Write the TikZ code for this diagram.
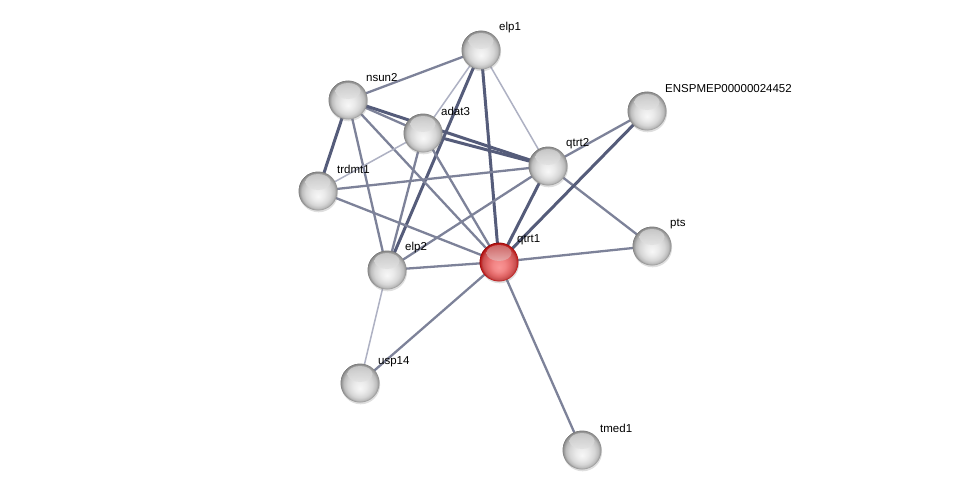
\documentclass[tikz,border=0pt]{standalone}
\usepackage{fontspec}
\setmainfont{Liberation Sans}
\usetikzlibrary{backgrounds,shadows}
\pgfdeclarelayer{back}
\pgfsetlayers{back,background,main}
\definecolor{edk}{HTML}{555C7A}
\definecolor{emd}{HTML}{7D8299}
\definecolor{elt}{HTML}{AEB1C3}
\pgfdeclareradialshading{sphg}{\pgfpoint{0bp}{-7bp}}{color(0bp)=(white!97!black); color(8bp)=(white!92!black); color(16bp)=(white!84!black); color(21bp)=(white!74!black); color(24bp)=(white!58!black); color(26bp)=(white!45!black)}
\pgfdeclareradialshading{sphr}{\pgfpoint{0bp}{-7bp}}{color(0bp)=(red!40!white!98!black); color(8bp)=(red!45!white!95!black); color(16bp)=(red!55!white!88!black); color(21bp)=(red!60!white!78!black); color(24bp)=(red!70!black!90!white); color(26bp)=(red!55!black)}
\tikzset{
  ball/.style={circle, minimum size=39pt, inner sep=0pt,
     drop shadow={shadow xshift=0.6pt, shadow yshift=-1.8pt, opacity=0.25},
     path picture={\shade[top color=#1, bottom color=white, opacity=0.85] ([yshift=9pt]path picture bounding box.center) ellipse (12.5pt and 8pt);}},
  prot/.style={ball=white!78!black, shading=sphg},
  query/.style={ball=red!50!white!80!black, shading=sphr},
  lab/.style={anchor=west, inner sep=0pt, font=\fontsize{11.5}{13}\selectfont},
  ethick/.style={draw=edk, line width=3pt},
  emed/.style={draw=emd, line width=2.3pt},
  elight/.style={draw=elt, line width=1.5pt}
}
\begin{document}
\begin{tikzpicture}[x=1pt,y=-1pt]
\begin{pgfonlayer}{back}
\fill[white] (0,0) rectangle (975,495);
\end{pgfonlayer}
\useasboundingbox (0,0) rectangle (975,495);
\node[prot] (elp1) at (481,50) {};
\node[prot] (nsun2) at (348,100) {};
\node[prot] (adat3) at (423,133) {};
\node[prot] (ensp) at (647,111) {};
\node[prot] (qtrt2) at (548,166) {};
\node[prot] (trdmt1) at (318,191) {};
\node[prot] (pts) at (652,246) {};
\node[query] (qtrt1) at (499,262) {};
\node[prot] (elp2) at (387,270) {};
\node[prot] (usp14) at (360,383) {};
\node[prot] (tmed1) at (582,450) {};
\node[lab] (lelp1) at (499,28) {elp1};
\node[lab] (lnsun2) at (366,78) {nsun2};
\node[lab] (ladat3) at (441,111) {adat3};
\node[lab] (lensp) at (665,89) {ENSPMEP00000024452};
\node[lab] (lqtrt2) at (566,144) {qtrt2};
\node[lab] (ltrdmt1) at (337,169) {trdmt1};
\node[lab] (lpts) at (670,224) {pts};
\node[lab] (lqtrt1) at (517,240) {qtrt1};
\node[lab] (lelp2) at (405,248) {elp2};
\node[lab] (lusp14) at (378,362) {usp14};
\node[lab] (ltmed1) at (600,428) {tmed1};
\begin{scope}[on background layer]
\draw[emed] (elp1.center) -- (nsun2.center);
\draw[elight] (elp1.center) -- (adat3.center);
\draw[elight] (elp1.center) -- (qtrt2.center);
\draw[ethick] (elp1.center) -- (qtrt1.center);
\draw[ethick] (elp1.center) -- (elp2.center);
\draw[emed] (nsun2.center) -- (adat3.center);
\draw[ethick] (nsun2.center) -- (qtrt2.center);
\draw[ethick] (nsun2.center) -- (trdmt1.center);
\draw[emed] (nsun2.center) -- (elp2.center);
\draw[emed] (nsun2.center) -- (qtrt1.center);
\draw[ethick] (adat3.center) -- (qtrt2.center);
\draw[elight] (adat3.center) -- (trdmt1.center);
\draw[emed] (adat3.center) -- (elp2.center);
\draw[emed] (adat3.center) -- (qtrt1.center);
\draw[emed] (qtrt2.center) -- (trdmt1.center);
\draw[ethick] (qtrt2.center) -- (qtrt1.center);
\draw[emed] (qtrt2.center) -- (elp2.center);
\draw[emed] (qtrt2.center) -- (pts.center);
\draw[emed] (qtrt2.center) -- (ensp.center);
\draw[ethick] (ensp.center) -- (qtrt1.center);
\draw[emed] (trdmt1.center) -- (qtrt1.center);
\draw[emed] (pts.center) -- (qtrt1.center);
\draw[emed] (elp2.center) -- (qtrt1.center);
\draw[elight] (elp2.center) -- (usp14.center);
\draw[emed] (usp14.center) -- (qtrt1.center);
\draw[emed] (tmed1.center) -- (qtrt1.center);
\end{scope}
\end{tikzpicture}
\end{document}
